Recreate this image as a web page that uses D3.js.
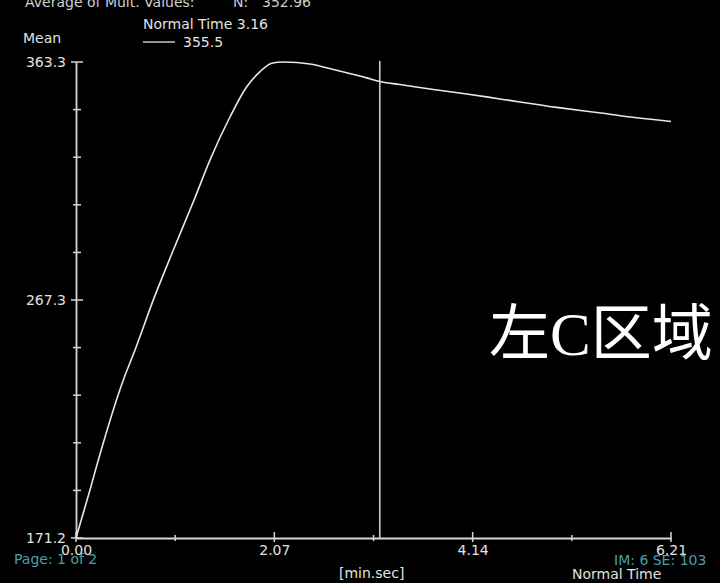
<!DOCTYPE html>
<html><head><meta charset="utf-8">
<script src="https://cdn.jsdelivr.net/npm/d3@7"></script>
<style>
html,body{margin:0;padding:0;background:#000;overflow:hidden}
svg{display:block}
</style></head>
<body>
<script>
// ---- data ----
const timeValues = [0, 0.146, 0.233, 0.494, 0.616, 0.807, 1.016, 1.232, 1.399, 1.608, 1.782, 1.921, 2.043, 2.164, 2.304, 2.442, 2.686, 3.034, 3.16, 3.382, 3.729, 4.078, 4.425, 5.017, 5.50, 5.852, 6.21];
const meanValues = [171.2, 190.6, 202.7, 235.0, 247.1, 267.3, 287.4, 307.6, 323.8, 341.2, 353.3, 359.4, 362.8, 363.3, 363.1, 362.5, 360.3, 356.9, 355.5, 354.2, 352.2, 350.4, 348.4, 345.0, 342.6, 340.8, 339.3];
const xTickValues = [0, 2.07, 4.14, 6.21];
const xTickLabels = ["0.00", "2.07", "4.14", "6.21"];
const xMinorTicks = [1.035, 3.105, 5.175];
const yTickValues = [171.2, 267.3, 363.3];
const yTickLabels = ["171.2", "267.3", "363.3"];
const yMinorCount = 10;
const cursorTime = 3.16;
const cursorValue = "355.5";
const titleParts = ["Average of Mult. Values:", "N:", "352.96"];
const yLabel = "Mean";
const xUnit = "[min.sec]";
const xLabel = "Normal Time";
const pageText = "Page: 1 of 2";
const imText = "IM: 6 SE: 103";
const overlayText = "左C区域";

const W = 720, H = 583;
const FONT = "'DejaVu Sans', Verdana, sans-serif";
const svg = d3.select("body").append("svg").attr("width", W).attr("height", H);
svg.append("rect").attr("width", W).attr("height", H).attr("fill", "#000");

const x = d3.scaleLinear().domain([0, 6.21]).range([76, 671]);
const y = d3.scaleLinear().domain([171.2, 363.3]).range([538, 62]);
const axisCol = "#d6d6d6", textCol = "#e2e2e2", teal = "#45a0a8";

// axes
const gx = svg.append("g").attr("transform", "translate(0,538)")
  .call(d3.axisBottom(x).tickValues(xTickValues).tickFormat((d,i)=>xTickLabels[i]).tickSize(0).tickPadding(7));
gx.select(".domain").attr("stroke", axisCol).attr("stroke-width", 1.8);
gx.selectAll("text").attr("fill", textCol).attr("font-size", 14).attr("font-family", FONT);
const gy = svg.append("g").attr("transform", "translate(76,0)")
  .call(d3.axisLeft(y).tickValues(yTickValues).tickFormat((d,i)=>yTickLabels[i]).tickSize(0).tickPadding(10));
gy.select(".domain").attr("stroke", axisCol).attr("stroke-width", 1.8);
gy.selectAll("text").attr("fill", textCol).attr("font-size", 14).attr("font-family", FONT);

// y ticks (minor + major)
const yAll = d3.range(yMinorCount + 1).map(i => 171.2 + i * (363.3 - 171.2) / yMinorCount);
svg.append("g").selectAll("line").data(yAll).join("line")
  .attr("x1", (d,i)=> i % 5 === 0 ? 71 : 73).attr("x2", (d,i)=> i % 5 === 0 ? 83 : 81)
  .attr("y1", d=>y(d)).attr("y2", d=>y(d))
  .attr("stroke", axisCol).attr("stroke-width", 1.5);
// x ticks
svg.append("g").selectAll("line").data(xTickValues).join("line")
  .attr("x1", d=>x(d)).attr("x2", d=>x(d)).attr("y1", 532).attr("y2", 542)
  .attr("stroke", axisCol).attr("stroke-width", 1.5);
svg.append("g").selectAll("line").data(xMinorTicks).join("line")
  .attr("x1", d=>x(d)).attr("x2", d=>x(d)).attr("y1", 535).attr("y2", 541)
  .attr("stroke", axisCol).attr("stroke-width", 1.5);

// cursor line
svg.append("line").attr("x1", x(cursorTime)+1).attr("x2", x(cursorTime)+1)
  .attr("y1", 61).attr("y2", 538).attr("stroke", "#c8c8c8").attr("stroke-width", 1.6);

// curve
const line = d3.line().x((d,i)=>x(timeValues[i])).y(d=>y(d)).curve(d3.curveMonotoneX);
svg.append("path").datum(meanValues).attr("d", line)
  .attr("fill", "none").attr("stroke", "#e8e8e8").attr("stroke-width", 1.6);

// texts
const T = (tx, ty, s, opt={}) => svg.append("text").attr("x", tx).attr("y", ty).text(s)
  .attr("fill", opt.fill || textCol).attr("font-size", opt.size || 14)
  .attr("text-anchor", opt.anchor || "start")
  .attr("font-family", opt.family || FONT);
T(25, 7, titleParts[0], {fill:"#cfcfcf"});
T(233, 7, titleParts[1], {fill:"#cfcfcf"});
T(262, 7, titleParts[2], {fill:"#cfcfcf"});
T(23, 43, yLabel);
T(143, 29, "Normal Time " + cursorTime.toFixed(2));
svg.append("line").attr("x1", 143).attr("x2", 175).attr("y1", 42).attr("y2", 42).attr("stroke", textCol).attr("stroke-width", 1.3);
T(183, 47, cursorValue);
T(339, 578, xUnit);
T(572, 579, xLabel);
T(14, 564, pageText, {fill: teal});
T(614, 565, imText, {fill: teal});
T(489, 355, overlayText, {fill:"#ffffff", size: 61, family: "'Liberation Serif', 'Noto Sans CJK SC', serif"});
</script>
</body></html>
